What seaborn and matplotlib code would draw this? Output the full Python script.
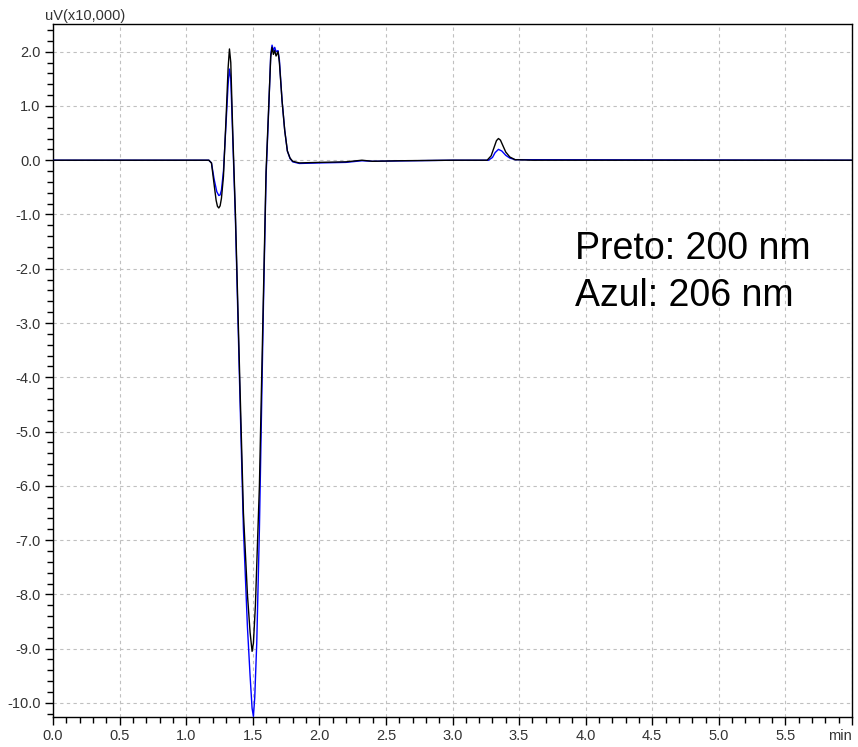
import matplotlib
matplotlib.use("Agg")
import matplotlib.pyplot as plt
from matplotlib.ticker import MultipleLocator, FuncFormatter, FormatStrFormatter
import seaborn as sns
import pandas as pd

# Preto: 200 nm
t_black = [0.00, 1.17, 1.19, 1.21, 1.225, 1.235, 1.245, 1.255, 1.265, 1.28, 1.30, 1.315, 1.325, 1.335,
           1.35, 1.37, 1.40, 1.43, 1.46, 1.48, 1.495, 1.505, 1.52, 1.55, 1.58, 1.60,
           1.62, 1.635, 1.645, 1.655, 1.665, 1.675, 1.69, 1.70, 1.72, 1.74, 1.76, 1.78,
           1.80, 1.85, 2.00, 2.20, 2.32, 2.40, 2.60, 3.00, 3.26, 3.29, 3.31, 3.33, 3.345,
           3.36, 3.38, 3.40, 3.43, 3.47, 3.60, 6.00]
v_black = [0.00, 0.00, -0.05, -0.45, -0.74, -0.85, -0.88, -0.84, -0.70, -0.30, 0.80, 1.70, 2.05, 1.80,
           0.50, -1.00, -3.80, -6.50, -8.00, -8.70, -9.05, -8.90, -8.20, -6.00, -2.50, -0.20,
           1.00, 1.90, 2.08, 1.95, 2.02, 1.92, 2.00, 1.80, 1.10, 0.55, 0.17, 0.04,
           -0.02, -0.05, -0.04, -0.03, 0.00, -0.02, -0.01, 0.00, 0.00, 0.08, 0.22, 0.36, 0.40,
           0.37, 0.26, 0.15, 0.06, 0.01, 0.00, 0.00]

# Azul: 206 nm
t_blue = [0.00, 1.17, 1.19, 1.21, 1.23, 1.245, 1.255, 1.265, 1.28, 1.30, 1.315, 1.325, 1.335,
          1.35, 1.37, 1.40, 1.43, 1.46, 1.48, 1.495, 1.505, 1.515, 1.53, 1.55, 1.58,
          1.60, 1.62, 1.635, 1.645, 1.655, 1.665, 1.675, 1.69, 1.70, 1.72, 1.74, 1.76,
          1.78, 1.80, 1.85, 2.00, 2.20, 2.32, 2.40, 3.00, 3.27, 3.30, 3.32, 3.345, 3.37,
          3.40, 3.43, 3.47, 6.00]
v_blue = [0.00, 0.00, -0.05, -0.35, -0.58, -0.65, -0.64, -0.55, -0.20, 0.70, 1.40, 1.68, 1.50,
          0.40, -1.10, -4.00, -6.80, -8.60, -9.50, -10.10, -10.25, -9.90, -8.90, -6.80, -2.70,
          -0.30, 0.95, 1.95, 2.12, 2.02, 2.08, 2.00, 2.02, 1.85, 1.10, 0.55, 0.17,
          0.03, -0.03, -0.06, -0.05, -0.04, -0.01, -0.02, 0.00, 0.00, 0.05, 0.14, 0.20, 0.17,
          0.09, 0.04, 0.01, 0.00]

sns.set_style("white")
plt.rcParams['font.family'] = ['Liberation Sans', 'DejaVu Sans']

fig = plt.figure(figsize=(8.58, 7.47), dpi=100)
ax = fig.add_axes([53/858, 1 - 717/747, (852 - 53)/858, (717 - 24)/747])

df_b = pd.DataFrame({"t": t_black, "v": v_black})
df_z = pd.DataFrame({"t": t_blue, "v": v_blue})
sns.lineplot(data=df_z, x="t", y="v", ax=ax, color="#0000ff", linewidth=1.0,
             sort=False, estimator=None, zorder=3)
sns.lineplot(data=df_b, x="t", y="v", ax=ax, color="#000000", linewidth=1.0,
             sort=False, estimator=None, zorder=4)

ax.set_xlim(0, 6.0)
ax.set_ylim(-10.26, 2.51)
ax.xaxis.set_major_locator(MultipleLocator(0.5))
ax.xaxis.set_minor_locator(MultipleLocator(0.1))
ax.yaxis.set_major_locator(MultipleLocator(1.0))
ax.yaxis.set_minor_locator(MultipleLocator(0.2))
ax.xaxis.set_major_formatter(FuncFormatter(lambda v, p: "" if v > 5.9 else f"{v:.1f}"))
ax.yaxis.set_major_formatter(FormatStrFormatter('%.1f'))
ax.tick_params(which='major', direction='out', length=6, width=1, color='black',
               labelsize=10.5, labelcolor='#333333', bottom=True, left=True, pad=3)
ax.tick_params(which='minor', direction='out', length=4, width=1, color='black',
               bottom=True, left=True)
ax.set_xlabel("")
ax.set_ylabel("")
ax.grid(True, which='major', color='#c0c0c0', linestyle=(0, (3, 3)), linewidth=0.8)
ax.set_axisbelow(True)
for s in ax.spines.values():
    s.set_color('black')
    s.set_linewidth(1.0)

fig.text(45/858, 1 - 20/747, "uV(x10,000)", fontsize=10.5, color='#333333',
         ha='left', va='baseline')
fig.text(852/858, 1 - 740/747, "min", fontsize=10.5, color='#333333',
         ha='right', va='baseline')

ax.text(3.92, -1.64, "Preto: 200 nm", fontsize=27, color='black', va='center', ha='left')
ax.text(3.92, -2.50, "Azul: 206 nm", fontsize=27, color='black', va='center', ha='left')

fig.savefig("out.png", dpi=100)
